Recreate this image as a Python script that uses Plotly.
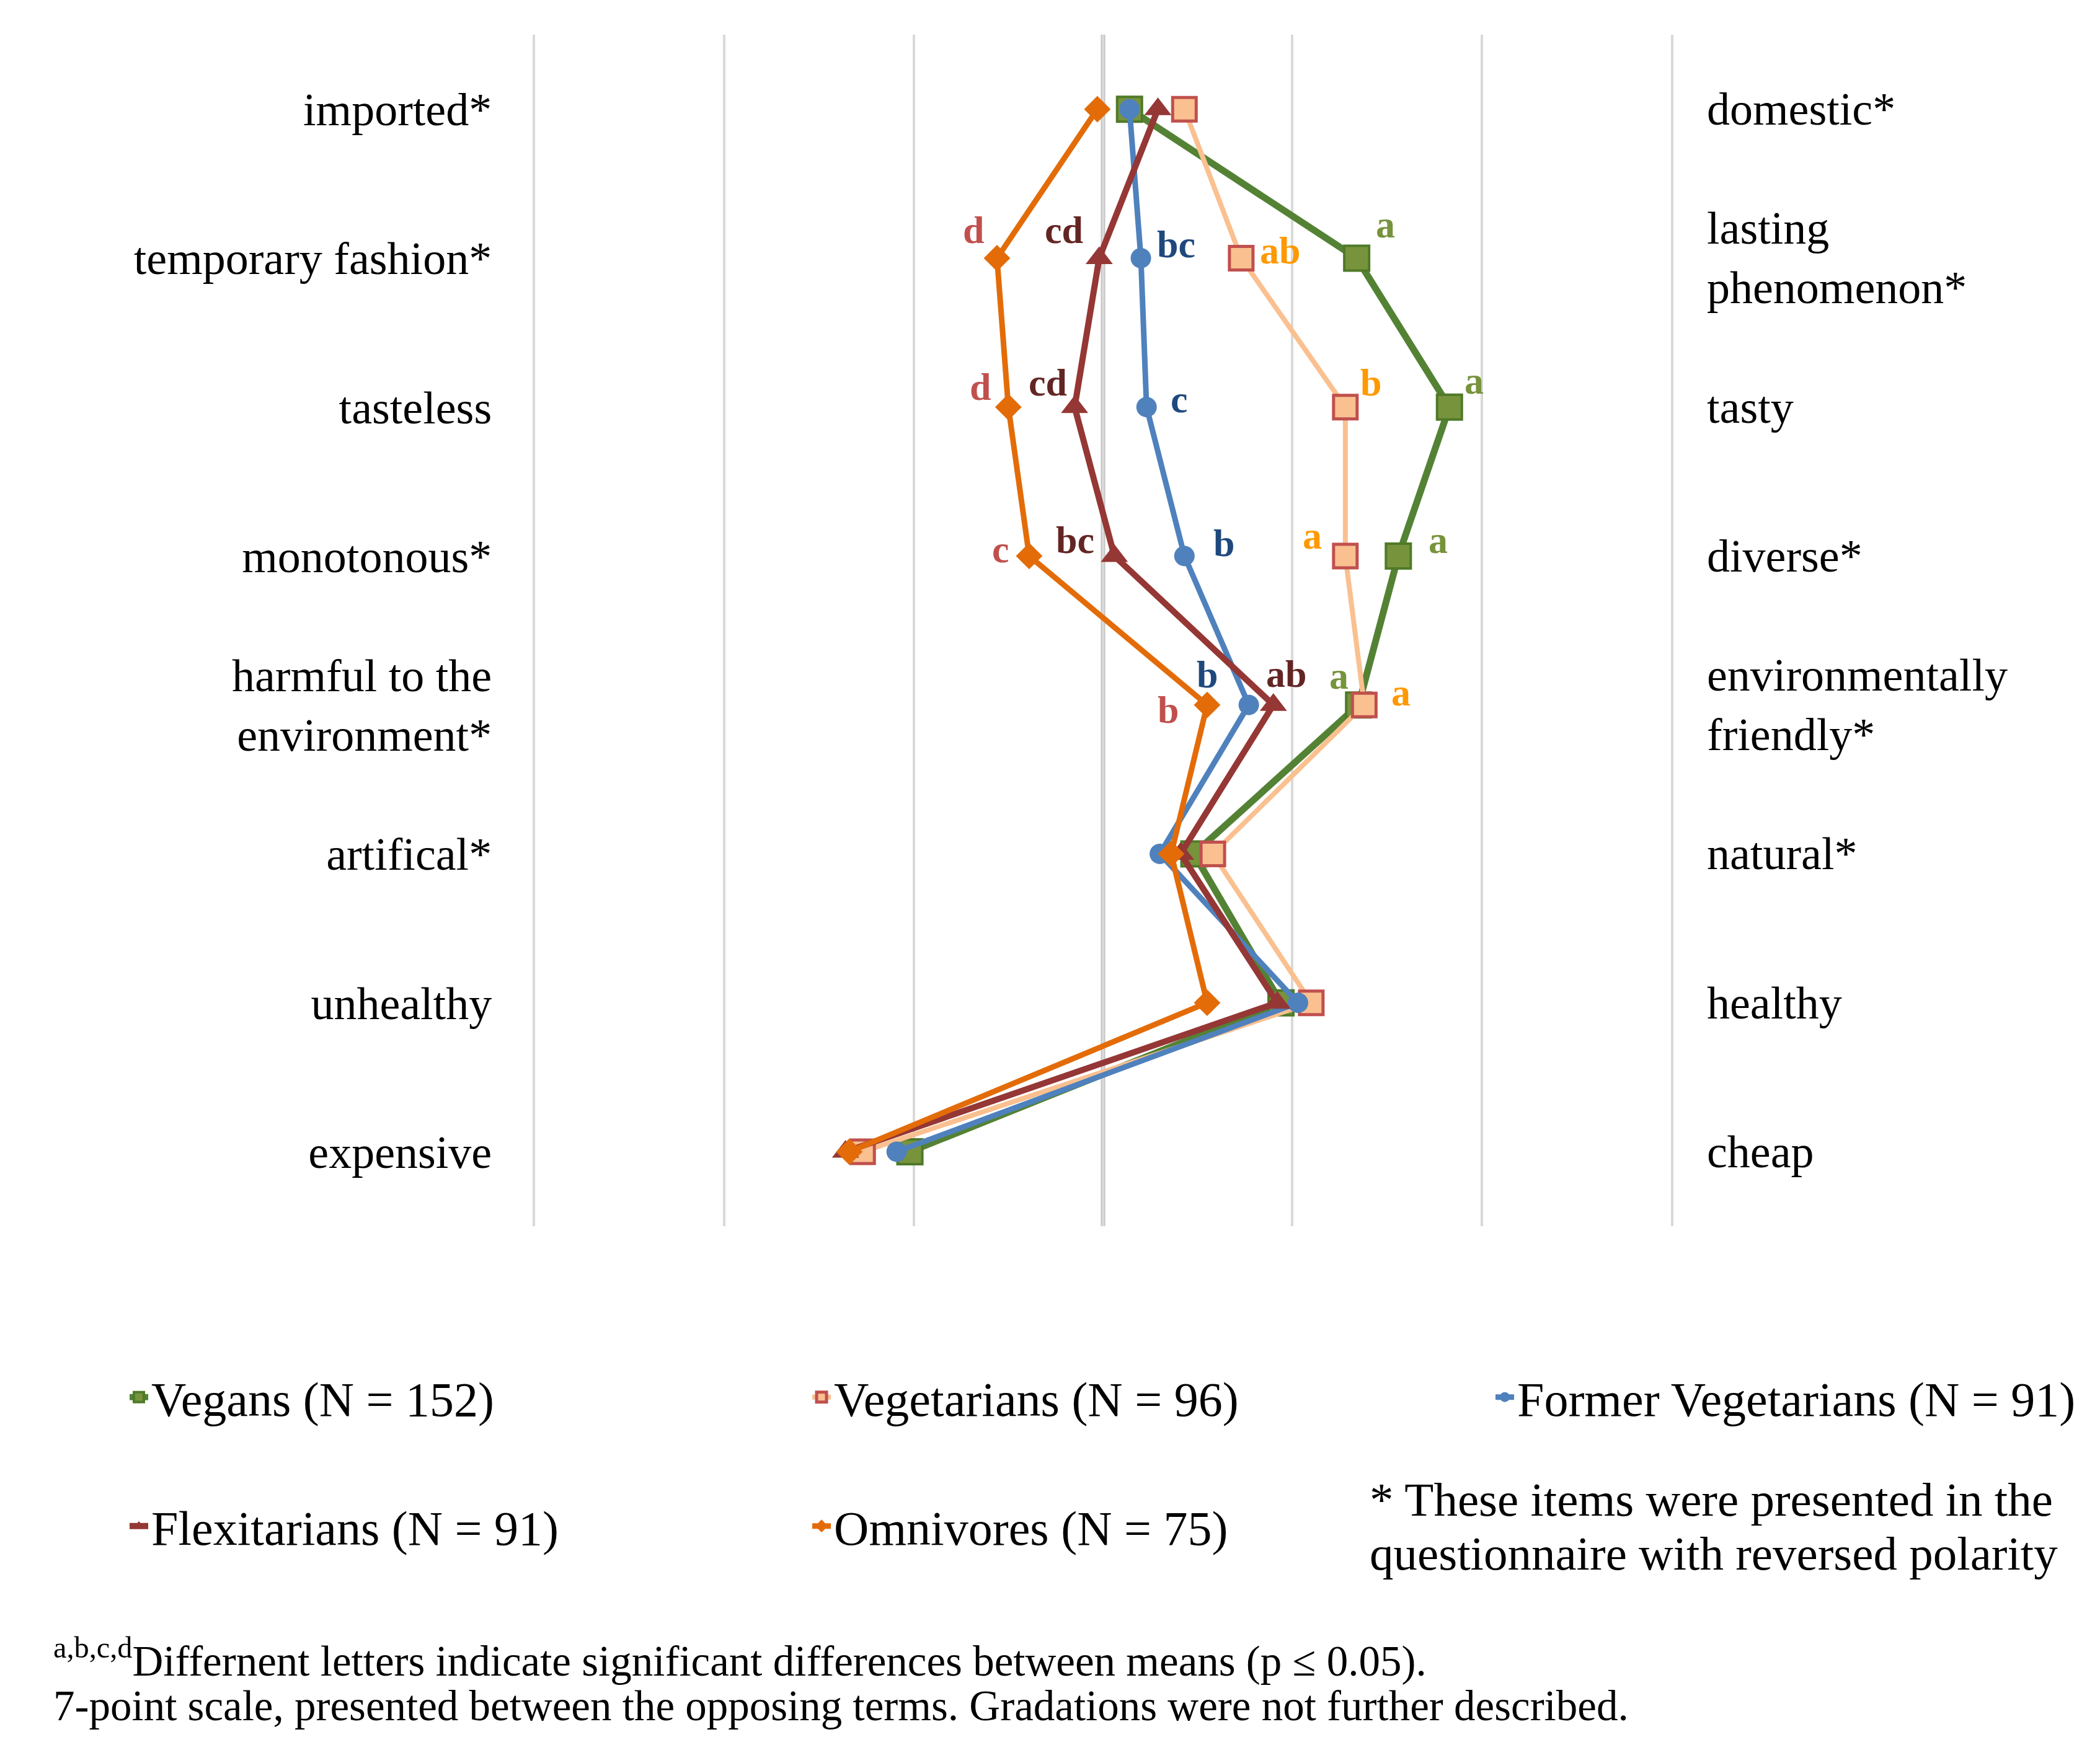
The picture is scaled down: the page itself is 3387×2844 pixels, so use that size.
import plotly.graph_objects as go

SERIF = "Liberation Serif, Times New Roman, serif"

# semantic differential items (left pole / right pole)
left_terms = ["imported*", "temporary fashion*", "tasteless", "monotonous*",
              "harmful to the<br>environment*", "artifical*", "unhealthy", "expensive"]
right_terms = ["domestic*", "lasting<br>phenomenon*", "tasty", "diverse*",
               "environmentally<br>friendly*", "natural*", "healthy", "cheap"]

groups = ["Vegans (N = 152)", "Vegetarians (N = 96)", "Former Vegetarians (N = 91)",
          "Flexitarians (N = 91)", "Omnivores (N = 75)"]

vegans = [4.14, 5.34, 5.83, 5.56, 5.35, 4.48, 4.94, 2.98]
vegetarians = [4.43, 4.73, 5.28, 5.28, 5.38, 4.58, 5.10, 2.73]
former_veg = [4.14, 4.20, 4.23, 4.43, 4.77, 4.30, 5.03, 2.91]
flexitarians = [4.29, 3.98, 3.85, 4.06, 4.90, 4.41, 4.92, 2.64]
omnivores = [3.97, 3.44, 3.50, 3.61, 4.55, 4.36, 4.55, 2.66]

# significance letters per row (None = no letter shown)
letters_vegans = [None, "a", "a", "a", "a", None, None, None]
letters_vegetarians = [None, "ab", "b", "a", "a", None, None, None]
letters_former = [None, "bc", "c", "b", "b", None, None, None]
letters_flex = [None, "cd", "cd", "bc", "ab", None, None, None]
letters_omni = [None, "d", "d", "c", "b", None, None, None]

series_values = [vegans, vegetarians, former_veg, flexitarians, omnivores]
series_letters = [letters_vegans, letters_vegetarians, letters_former, letters_flex, letters_omni]

note_lines = ["* These items were presented in the", "questionnaire with reversed polarity"]
foot_lines = ["<sup>a,b,c,d</sup>Differnent letters indicate significant differences between means (p ≤ 0.05).",
              "7-point scale, presented between the opposing terms. Gradations were not further described."]

# styles
styles = [
    dict(line=dict(color="#548235", width=11),
         marker=dict(symbol="square", size=40, color="#77933C", line=dict(color="#4F7A28", width=4))),
    dict(line=dict(color="#FAC090", width=8),
         marker=dict(symbol="square", size=38, color="#FAC090", line=dict(color="#C0504D", width=5))),
    dict(line=dict(color="#4F81BD", width=9),
         marker=dict(symbol="circle", size=33, color="#4F81BD")),
    dict(line=dict(color="#953735", width=10),
         marker=dict(symbol="triangle-up", size=38, color="#953735")),
    dict(line=dict(color="#E36C09", width=9),
         marker=dict(symbol="diamond", size=33, color="#E36C09")),
]
letter_colors = ["#77933C", "#FF9900", "#1F497D", "#632523", "#C0504D"]

# pixel offsets (dx right, dy down) of each letter from its marker, per series/row
letter_offsets = [
    {1: (46, -54), 2: (40, -43), 3: (64, -26), 4: (-32, -47)},
    {1: (63, -12), 2: (41, -40), 3: (-53, -33), 4: (59, -20)},
    {1: (57, -22), 2: (53, -13), 3: (64, -21), 4: (-67, -49)},
    {1: (-57, -45), 2: (-43, -40), 3: (-63, -26), 4: (21, -50)},
    {1: (-38, -45), 2: (-45, -33), 3: (-46, -11), 4: (-63, 8)},
]

# legend slots (paper coords): 3 on first row, 2 on second
legend_pos = [(-0.3597, -0.1436), (0.2413, -0.1436), (0.8428, -0.1436),
              (-0.3597, -0.2518), (0.2413, -0.2518)]
note_y = [-0.2293, -0.2746]
foot_y = [-0.3623, -0.4029]

fig = go.Figure()
for i, (name, vals) in enumerate(zip(groups, series_values)):
    fig.add_trace(go.Scatter(
        x=vals, y=left_terms, name=name, mode="lines+markers",
        legend="legend" if i == 0 else f"legend{i + 1}",
        **styles[i]))

annotations = []
for i, (vals, lets) in enumerate(zip(series_values, series_letters)):
    for j, (v, t) in enumerate(zip(vals, lets)):
        if t is None:
            continue
        dx, dy = letter_offsets[i][j]
        annotations.append(dict(
            x=v, y=left_terms[j], xref="x", yref="y", text=f"<b>{t}</b>", showarrow=False,
            xshift=dx, yshift=-dy, font=dict(family=SERIF, size=62, color=letter_colors[i])))

# right-hand pole labels
for term, rt in zip(left_terms, right_terms):
    annotations.append(dict(
        x=1, y=term, xref="paper", yref="y", xanchor="left", yanchor="middle", align="left",
        xshift=56, text=rt, showarrow=False, font=dict(family=SERIF, size=74, color="black")))

for t, y in zip(note_lines, note_y):
    annotations.append(dict(
        x=0.7336, y=y, xref="paper", yref="paper", xanchor="left", yanchor="middle",
        showarrow=False, text=t, font=dict(family=SERIF, size=77, color="black")))
for t, y in zip(foot_lines, foot_y):
    annotations.append(dict(
        x=-0.4252, y=y, xref="paper", yref="paper", xanchor="left", yanchor="middle",
        showarrow=False, text=t, font=dict(family=SERIF, size=69, color="black")))

legends = {}
for i, (lx, ly) in enumerate(legend_pos):
    key = "legend" if i == 0 else f"legend{i + 1}"
    legends[key] = dict(x=lx, y=ly, xanchor="left", yanchor="middle", orientation="h",
                        bgcolor="rgba(0,0,0,0)", font=dict(family=SERIF, size=78, color="black"))

fig.update_layout(
    width=3387, height=2844,
    margin=dict(l=855, r=700, t=48, b=874),
    paper_bgcolor="white", plot_bgcolor="white",
    font=dict(family=SERIF, color="black"),
    showlegend=True,
    annotations=annotations,
    **legends,
    xaxis=dict(range=[1, 7], tickvals=[1, 2, 3, 4, 5, 6, 7], showticklabels=False,
               showgrid=True, gridcolor="#D9D9D9", gridwidth=4, zeroline=False, showline=False),
    yaxis=dict(type="category", categoryorder="array", categoryarray=left_terms,
               range=[7.5, -0.5], showgrid=False, zeroline=False,
               showline=True, mirror=True, linecolor="#D9D9D9", linewidth=4,
               ticks="", ticklabelstandoff=51, tickfont=dict(family=SERIF, size=74, color="black")),
)
fig.add_vline(x=4, line=dict(color="#BFBFBF", width=7), layer="below")

fig.write_html("out.html")
